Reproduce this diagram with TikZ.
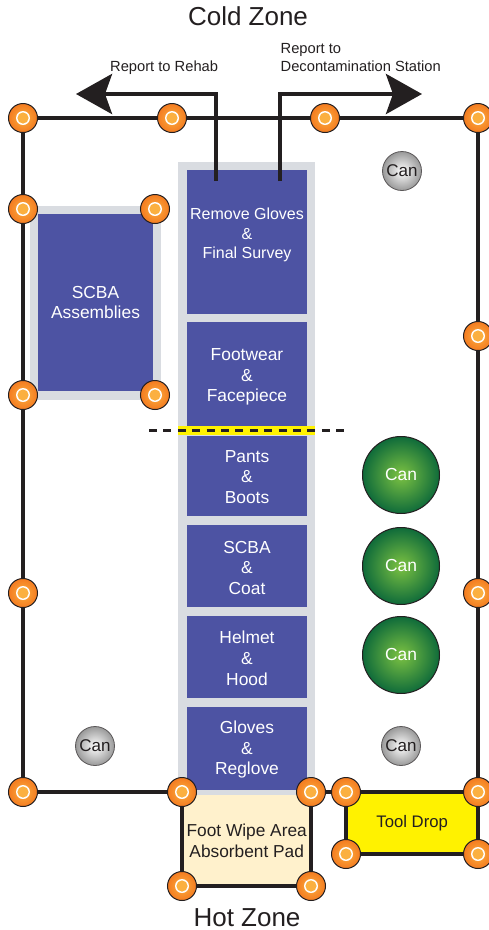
\documentclass[tikz,border=0pt]{standalone}
\usepackage{fontspec}
\setmainfont{Liberation Sans}
\usetikzlibrary{arrows.meta,backgrounds}
\pgfdeclarelayer{front}
\pgfsetlayers{background,main,front}
\definecolor{ink}{HTML}{231F20}
\definecolor{bluebox}{HTML}{4D53A3}
\definecolor{greyback}{HTML}{D9DCE1}
\definecolor{cream}{HTML}{FFF1CC}
\definecolor{tooly}{HTML}{FFF200}
\definecolor{pinout}{HTML}{F47B20}
\definecolor{pinin}{HTML}{FBB040}
\definecolor{canout}{HTML}{0F6B3A}
\definecolor{canin}{HTML}{7CC242}
\tikzset{
  x=1pt,y=-1pt,
  sized/.style 2 args={minimum width=#1pt,minimum height=#2pt},
  station/.style={fill=bluebox,inner sep=0pt,anchor=north west},
  stationtext/.style={text=white,inner sep=0pt,align=center,font=\fontsize{17.4}{20.8}\selectfont},
  backing/.style={fill=greyback,inner sep=0pt,anchor=north west},
  wall/.style={draw=ink,line width=4.4pt},
  pin/.style={circle,minimum size=29pt,inner sep=0pt,draw=ink,line width=1pt,shading=radial,inner color=pinin,outer color=pinout,
    path picture={\fill[fill=white] (path picture bounding box.center) circle (7pt);\fill[fill=pinin] (path picture bounding box.center) circle (5.6pt);}},
  smallcan/.style={circle,minimum size=39pt,inner sep=0pt,draw=ink!75,line width=0.8pt,shading=radial,inner color=white,outer color=black!40,text=ink,font=\fontsize{17}{20}\selectfont},
  bigcan/.style={circle,minimum size=77pt,inner sep=0pt,draw=ink,line width=1pt,shading=radial,inner color=canin,outer color=canout,text=white,font=\fontsize{17.4}{20}\selectfont},
  flow/.style={draw=ink,line width=4.4pt,-{Stealth[length=36pt,width=40pt,inset=7pt]}},
  zone/.style={text=ink,inner sep=0pt,font=\fontsize{26}{30}\selectfont},
  note/.style={text=ink,inner sep=0pt,align=left,font=\fontsize{14.7}{17.6}\selectfont},
}
\begin{document}
\begin{tikzpicture}
\useasboundingbox (0,0) rectangle (489,930);
\begin{pgfonlayer}{background}
\node[backing,sized={137}{634}] (spine) at (178,162) {};
\node[backing,sized={131}{194}] (scbaback) at (30,206) {};
\end{pgfonlayer}
\node[station,sized={120}{144}] (gloves) at (187,170) {};
\node[station,sized={120}{106}] (foot) at (187,322) {};
\node[station,sized={120}{80}] (pants) at (187,436) {};
\node[station,sized={120}{82}] (coat) at (187,525) {};
\node[station,sized={120}{82}] (helmet) at (187,616) {};
\node[station,sized={120}{83}] (reglove) at (187,707) {};
\node[station,sized={115}{177}] (scba) at (38,214) {};
\node[stationtext,font=\fontsize{16}{19.6}\selectfont] (glovest) at (247,235) {Remove Gloves\\\&\\Final Survey};
\node[stationtext] (foott) at (247,377) {Footwear\\\&\\Facepiece};
\node[stationtext] (pantst) at (247,477) {Pants\\\&\\Boots};
\node[stationtext] (coatt) at (247,568) {SCBA\\\&\\Coat};
\node[stationtext] (helmett) at (247,658) {Helmet\\\&\\Hood};
\node[stationtext] (reglovet) at (247,749.5) {Gloves\\\&\\Reglove};
\node[stationtext] (scbat) at (95.5,302.5) {SCBA\\Assemblies};
\node[inner sep=0pt,fill=tooly,anchor=north west,sized={137}{9}] (band) at (178,426) {};
\node[inner sep=0pt,fill=cream,anchor=north west,sized={129}{91},text=ink,align=center,font=\fontsize{17.3}{21}\selectfont] (wipe) at (182,795) {Foot Wipe Area\\Absorbent Pad};
\node[inner sep=0pt,fill=tooly,anchor=north west,sized={132}{62},text=ink,font=\fontsize{16.7}{20}\selectfont] (tool) at (346,792) {Tool Drop};
\node[smallcan] (can1) at (402,171) {Can};
\node[smallcan] (can2) at (95,746) {Can};
\node[smallcan] (can3) at (401,746) {Can};
\node[bigcan] (can4) at (401,475) {Can};
\node[bigcan] (can5) at (401,566) {Can};
\node[bigcan] (can6) at (401,655) {Can};
\begin{pgfonlayer}{front}
\node[pin] (p1) at (23,118) {};
\node[pin] (p2) at (172,118) {};
\node[pin] (p3) at (325,118) {};
\node[pin] (p4) at (478,118) {};
\node[pin] (p5) at (23,209) {};
\node[pin] (p6) at (155,209) {};
\node[pin] (p7) at (23,395) {};
\node[pin] (p8) at (155,395) {};
\node[pin] (p9) at (478,336) {};
\node[pin] (p10) at (23,593) {};
\node[pin] (p11) at (478,593) {};
\node[pin] (p12) at (23,792) {};
\node[pin] (p13) at (182,792) {};
\node[pin] (p14) at (311,792) {};
\node[pin] (p15) at (346,792) {};
\node[pin] (p16) at (478,792) {};
\node[pin] (p17) at (346,854) {};
\node[pin] (p18) at (478,854) {};
\node[pin] (p19) at (182,886) {};
\node[pin] (p20) at (311,886) {};
\end{pgfonlayer}
\draw[wall] (p1) -- (p2);
\draw[wall] (p2) -- (p3);
\draw[wall] (p3) -- (p4);
\draw[wall] (p1) -- (p5);
\draw[wall] (p5) -- (p7);
\draw[wall] (p7) -- (p10);
\draw[wall] (p10) -- (p12);
\draw[wall] (p4) -- (p9);
\draw[wall] (p9) -- (p11);
\draw[wall] (p11) -- (p16);
\draw[wall] (p12) -- (p13);
\draw[wall] (p14) -- (p15);
\draw[wall] (p15) -- (p16);
\draw[wall] (p15) -- (p17);
\draw[wall] (p17) -- (p18);
\draw[wall] (p16) -- (p18);
\draw[wall] (p13) -- (p19);
\draw[wall] (p19) -- (p20);
\draw[wall] (p14) -- (p20);
\coordinate (dashL) at (149,430);
\coordinate (dashR) at (346,430);
\draw[ink,line width=3pt,dash pattern=on 8pt off 6.4pt] (dashL) -- (dashR);
\coordinate (rehabstart) at (216,181);
\coordinate (rehabend) at (76,94);
\coordinate (deconstart) at (280,181);
\coordinate (deconend) at (422,94);
\draw[flow] (rehabstart) |- (rehabend);
\draw[flow] (deconstart) |- (deconend);
\node[zone] (cold) at (248,16.5) {Cold Zone};
\node[zone] (hot) at (247,917.5) {Hot Zone};
\node[note,anchor=west] (rehab) at (110,67.5) {Report to Rehab};
\node[note,anchor=west] (decon) at (280.5,57.5) {Report to\\Decontamination Station};
\end{tikzpicture}
\end{document}
